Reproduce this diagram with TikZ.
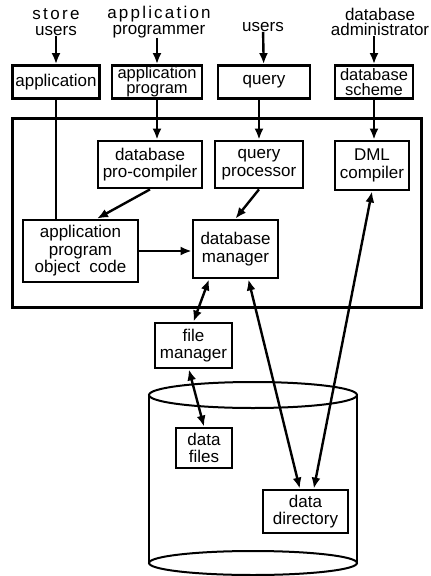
\documentclass[tikz,border=0pt]{standalone}
\usepackage{fontspec}
\setmainfont{Liberation Sans}
\usetikzlibrary{arrows.meta,positioning}

\begin{document}
\begin{tikzpicture}[
  x=1pt, y=-1pt,
  font=\fontsize{17}{17.5}\selectfont,
  box/.style={draw,line width=2.8pt,inner sep=0pt,align=center},
  tight/.style={font=\fontsize{16.5}{15}\selectfont},
  actor/.style={align=center,inner sep=0pt,font=\fontsize{17}{15.5}\selectfont},
  arrow/.style={-{Latex[length=11pt,width=9pt]},line width=2.4pt},
  twoway/.style={{Latex[length=11pt,width=9pt]}-{Latex[length=11pt,width=9pt]},line width=2.4pt},
  link/.style={line width=2.4pt}
]
\useasboundingbox (0,0) rectangle (431,576);
% users of the system
\node[actor] (lStore) at (56,22) {{\addfontfeature{LetterSpace=14}store}\\users};
\node[actor] (lProg) at (159,22) {{\addfontfeature{LetterSpace=13}application}\\programmer};
\node[actor] (lUsers) at (263,27) {users};
\node[actor] (lAdmin) at (380,22) {database\\administrator};
% interfaces
\node[box,minimum width=87,minimum height=33] (app) at (56,82) {application};
\node[box,tight,minimum width=90,minimum height=33] (appProg) at (157,82) {application\\program};
\node[box,minimum width=92,minimum height=33] (query) at (264,82) {query};
\node[box,tight,minimum width=78,minimum height=33] (scheme) at (374,82) {database\\scheme};
% query processing part
\node[box,line width=3pt,minimum width=409,minimum height=189] (dbms) at (216.5,212.5) {};
\node[box,minimum width=104,minimum height=47] (preComp) at (150,164.5) {database\\pro-compiler};
\node[box,minimum width=88,minimum height=47] (qProc) at (259,164.5) {query\\processor};
\node[box,minimum width=74,minimum height=49] (dml) at (372,165.5) {DML\\compiler};
\node[box,minimum width=115,minimum height=62] (objCode) at (80.5,251) {application\\program\\object~~code};
\node[box,minimum width=85,minimum height=58] (dbMan) at (235.5,249) {database\\manager};
% storage part
\node[box,minimum width=77,minimum height=45] (fileMan) at (193.5,345.5) {file\\manager};
\draw[line width=2pt] (149,395) -- (149,563) (357,395) -- (357,563);
\draw[line width=2pt] (253,395) ellipse [x radius=104pt, y radius=13pt];
\draw[line width=2pt] (253,563) ellipse [x radius=104pt, y radius=12pt];
\node[box,minimum width=56,minimum height=40] (dataFiles) at (204,448) {data\\files};
\node[box,minimum width=85,minimum height=43] (dataDir) at (305.5,511.5) {data\\directory};

\draw[arrow] (lStore) -- (app);
\draw[arrow] (lProg.south -| appProg) -- (appProg);
\draw[arrow] (lUsers) -- (query);
\draw[arrow] (lAdmin.south -| scheme) -- (scheme);
\draw[link] (app.south) -- (app.south |- objCode.north);
\draw[arrow] (appProg.south) -- (appProg.south |- preComp.north);
\draw[arrow] (qProc.north |- query.south) -- (qProc.north);
\draw[arrow] (scheme.south) -- (scheme.south |- dml.north);
\draw[arrow] (preComp.south) -- (objCode.63);
\draw[arrow] (qProc.south) -- (dbMan.north);
\draw[arrow] (objCode.east) -- (objCode.east -| dbMan.west);
\draw[twoway] (dml.south) -- (dataDir.70);
\draw[twoway] (dbMan.229) -- (fileMan.north);
\draw[twoway] (dbMan.293) -- (dataDir.104);
\draw[twoway] (fileMan.259) -- (dataFiles.north);
\end{tikzpicture}
\end{document}
